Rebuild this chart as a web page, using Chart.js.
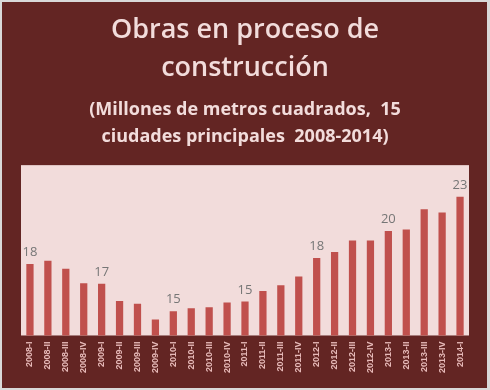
<!DOCTYPE html>
<html>
<head>
<meta charset="utf-8">
<script src="https://cdn.jsdelivr.net/npm/chart.js@4.4.1/dist/chart.umd.min.js"></script>
<style>
  html, body { margin: 0; padding: 0; background: #d9d9d9; }
  #wrap { width: 490px; height: 390px; }
</style>
</head>
<body>
<div id="wrap"><canvas id="obrasChart" width="490" height="390"></canvas></div>
<script>
// data ====================================
const quarters = [
  "2008-I", "2008-II", "2008-III", "2008-IV",
  "2009-I", "2009-II", "2009-III", "2009-IV",
  "2010-I", "2010-II", "2010-III", "2010-IV",
  "2011-I", "2011-II", "2011-III", "2011-IV",
  "2012-I", "2012-II", "2012-III", "2012-IV",
  "2013-I", "2013-II", "2013-III", "2013-IV",
  "2014-I"
];
const obras = [
  17.95, 18.18, 17.62, 16.62,
  16.59, 15.38, 15.19, 14.10,
  14.68, 14.89, 14.96, 15.29,
  15.36, 16.08, 16.48, 17.08,
  18.37, 18.79, 19.58, 19.58,
  20.23, 20.35, 21.75, 21.52,
  22.61
];
const titleLines = ["Obras en proceso de", "construcción"];
const subtitleLines = ["(Millones de metros cuadrados,  15", "ciudades principales  2008-2014)"];

// background: grey edge, maroon frame, pink plot area
const frameBg = {
  id: "frameBg",
  beforeDraw(chart) {
    const { ctx, chartArea } = chart;
    ctx.save();
    ctx.fillStyle = "#d9d9d9";
    ctx.fillRect(0, 0, chart.width, chart.height);
    ctx.fillStyle = "#632523";
    ctx.fillRect(2, 2, chart.width - 5, chart.height - 4);
    ctx.fillStyle = "#f2dcdb";
    ctx.fillRect(chartArea.left, chartArea.top, chartArea.right - chartArea.left, chartArea.bottom - chartArea.top);
    ctx.restore();
  },
};

// value labels on the first quarter of every year
const yearLabels = {
  id: "yearLabels",
  afterDatasetsDraw(chart) {
    const { ctx } = chart;
    const meta = chart.getDatasetMeta(0);
    ctx.save();
    ctx.font = "13px 'Open Sans'";
    ctx.fillStyle = "#767676";
    ctx.textAlign = "center";
    ctx.textBaseline = "bottom";
    meta.data.forEach((bar, i) => {
      if (!quarters[i].endsWith("-I")) return;
      ctx.fillText(Math.round(obras[i]), bar.x, bar.y - 5);
    });
    ctx.restore();
  },
};

const ctx = document.getElementById("obrasChart").getContext("2d");
new Chart(ctx, {
  type: "bar",
  data: {
    labels: quarters,
    datasets: [
      {
        data: obras,
        backgroundColor: "#c0504d",
        barPercentage: 0.9,
        categoryPercentage: 0.45,
      },
    ],
  },
  options: {
    responsive: false,
    animation: false,
    layout: { padding: { left: 21, right: 21, top: 0, bottom: 11 } },
    plugins: {
      legend: { display: false },
      tooltip: { enabled: false },
      title: {
        display: true,
        text: titleLines,
        color: "#f2dcdb",
        font: { family: "Open Sans", size: 27, weight: "600", lineHeight: 1.41 },
        padding: { top: 11, bottom: 5 },
      },
      subtitle: {
        display: true,
        text: subtitleLines,
        color: "#f2dcdb",
        font: { family: "Open Sans", size: 18, weight: "bold", lineHeight: 1.5 },
        padding: { top: 4, bottom: 15 },
      },
    },
    scales: {
      x: {
        grid: { display: false, drawTicks: false },
        border: { display: false },
        ticks: {
          color: "#e6b9b8",
          font: { family: "Liberation Sans", size: 9, weight: "bold" },
          minRotation: 90,
          maxRotation: 90,
          autoSkip: false,
          padding: 6,
        },
      },
      y: {
        display: false,
        min: 13,
        max: 24.8,
      },
    },
  },
  plugins: [frameBg, yearLabels],
});
</script>
</body>
</html>
